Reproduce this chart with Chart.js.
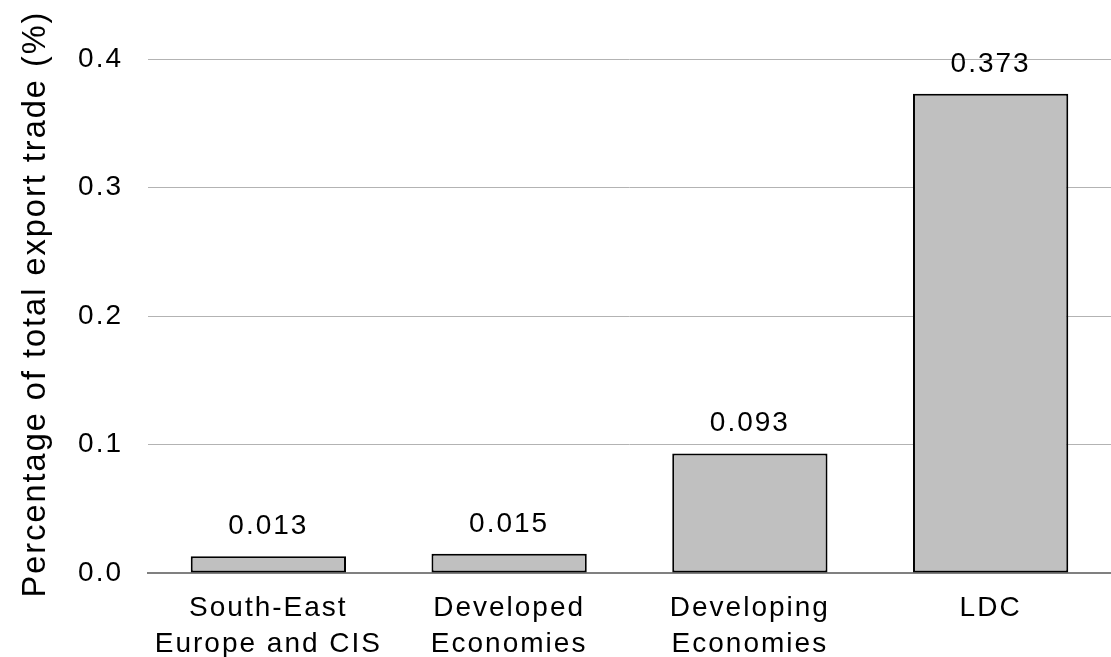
<!DOCTYPE html>
<html>
<head>
<meta charset="utf-8">
<script src="https://cdn.jsdelivr.net/npm/chart.js@4/dist/chart.umd.min.js"></script>
<style>
  html, body { margin: 0; padding: 0; background: #fff; }
  #wrap { width: 1111px; height: 657px; position: relative; }
</style>
</head>
<body>
<div id="wrap"><canvas id="c"></canvas></div>
<script>
// Share of total export trade by economic group
const categories = [
  ["South-East", "Europe and CIS"],
  ["Developed", "Economies"],
  ["Developing", "Economies"],
  ["LDC"]
];
const shareValues = [0.013, 0.015, 0.093, 0.373];
const valueLabels = ["0.013", "0.015", "0.093", "0.373"];
const yTicks = [0.0, 0.1, 0.2, 0.3, 0.4];
const yTitle = 'Percentage of total export trade (%)';

const FONT = "'Liberation Sans', Arial, sans-serif";
const SPACING = '2px';

// Slightly wider tracking for all chart text
const trackingPlugin = {
  id: 'tracking',
  beforeLayout(chart) { chart.ctx.letterSpacing = SPACING; },
  beforeDraw(chart) { chart.ctx.letterSpacing = SPACING; }
};

// Writes each bar's value above it, plus the rotated y-axis title
const labelPlugin = {
  id: 'valueLabels',
  afterDatasetsDraw(chart) {
    const ctx = chart.ctx;
    const meta = chart.getDatasetMeta(0);
    ctx.save();
    ctx.letterSpacing = SPACING;
    ctx.font = "28px " + FONT;
    ctx.fillStyle = "#000";
    ctx.textAlign = "center";
    ctx.textBaseline = "alphabetic";
    meta.data.forEach((bar, i) => {
      ctx.fillText(valueLabels[i], bar.x, bar.y - 22);
    });
    ctx.restore();

    const area = chart.chartArea;
    ctx.save();
    ctx.letterSpacing = SPACING;
    ctx.font = "32.5px " + FONT;
    ctx.fillStyle = "#000";
    ctx.textAlign = "center";
    ctx.textBaseline = "alphabetic";
    ctx.translate(45, (area.top + area.bottom) / 2 - 12);
    ctx.rotate(-Math.PI / 2);
    ctx.fillText(yTitle, 0, 0);
    ctx.restore();
  }
};

new Chart(document.getElementById('c'), {
  type: 'bar',
  data: {
    labels: categories,
    datasets: [{
      data: shareValues,
      backgroundColor: '#c0c0c0',
      borderColor: '#000',
      borderWidth: 2,
      borderSkipped: false,
      barPercentage: 0.645,
      categoryPercentage: 1.0
    }]
  },
  options: {
    responsive: true,
    maintainAspectRatio: false,
    animation: false,
    devicePixelRatio: 1,
    layout: { padding: { top: 59, right: 0, bottom: 0, left: 0 } },
    plugins: { legend: { display: false }, tooltip: { enabled: false } },
    scales: {
      x: {
        grid: { display: false, drawTicks: false },
        border: { display: true, color: '#808080', width: 2 },
        ticks: {
          color: '#000',
          font: { family: FONT, size: 28, lineHeight: 1.3 },
          padding: 17,
          maxRotation: 0,
          autoSkip: false
        },
        afterFit(scale) { scale.height = 84; }
      },
      y: {
        min: 0,
        max: 0.4,
        afterBuildTicks(scale) { scale.ticks = yTicks.map(v => ({ value: v })); },
        grid: {
          color: (c) => c.tick && c.tick.value === 0 ? 'rgba(0,0,0,0)' : '#b3b3b3',
          lineWidth: 1,
          drawTicks: false
        },
        border: { display: false },
        ticks: {
          color: '#000',
          font: { family: FONT, size: 28 },
          padding: 25,
          callback: (v) => Number(v).toFixed(1)
        },
        title: { display: false },
        afterFit(scale) { scale.width = 148; }
      }
    }
  },
  plugins: [trackingPlugin, labelPlugin]
});
</script>
</body>
</html>
